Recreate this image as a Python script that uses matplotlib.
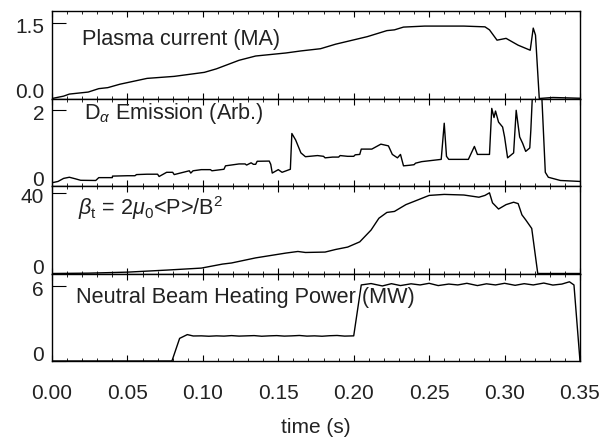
import matplotlib
matplotlib.use("Agg")
import matplotlib.pyplot as plt
from matplotlib.ticker import MultipleLocator
from matplotlib.transforms import ScaledTranslation

plt.rcParams['font.family'] = ['Liberation Sans', 'DejaVu Sans']
plt.rcParams['mathtext.fontset'] = 'custom'
plt.rcParams['mathtext.rm'] = 'Liberation Sans'
plt.rcParams['mathtext.it'] = 'Liberation Sans:italic'

# ---- data ----
ip_t = [0.0, 0.0077, 0.0115, 0.024, 0.031, 0.037, 0.045, 0.063, 0.081, 0.101, 0.109,
        0.124, 0.135, 0.155, 0.165, 0.178, 0.188, 0.209, 0.222, 0.227, 0.233, 0.247,
        0.273, 0.287, 0.29, 0.295, 0.301, 0.309, 0.317, 0.319, 0.3205, 0.323, 0.332, 0.35]
ip_v = [0.0, 0.047, 0.088, 0.128, 0.196, 0.216, 0.284, 0.40, 0.44, 0.52, 0.59,
        0.76, 0.845, 0.905, 0.946, 0.99, 1.08, 1.23, 1.35, 1.365, 1.42, 1.44,
        1.44, 1.425, 1.365, 1.16, 1.196, 1.06, 0.96, 1.40, 1.26, 0.0, 0.02, 0.005]

da_t = [0.0, 0.004, 0.0077, 0.0115, 0.0154, 0.019, 0.029, 0.031, 0.04, 0.0401, 0.05,
        0.055, 0.056, 0.063, 0.07, 0.071, 0.076, 0.08, 0.081, 0.088,
        0.091, 0.092, 0.0935, 0.099, 0.105, 0.106, 0.114, 0.115, 0.124, 0.128, 0.129,
        0.132, 0.1335, 0.135, 0.136,
        0.144, 0.145, 0.146, 0.15, 0.1525, 0.158, 0.159, 0.1615, 0.165, 0.168, 0.176,
        0.18, 0.181, 0.186, 0.19, 0.191, 0.196, 0.2, 0.201, 0.204, 0.205, 0.212, 0.218,
        0.223, 0.2256, 0.229, 0.231, 0.233,
        0.237, 0.24, 0.241, 0.245, 0.258, 0.26, 0.2615, 0.263, 0.27, 0.276, 0.28, 0.282,
        0.29, 0.2915, 0.293, 0.294, 0.296, 0.2987, 0.30, 0.302, 0.306, 0.3077, 0.31,
        0.312, 0.314, 0.3167, 0.3174, 0.3187, 0.3244, 0.327, 0.329, 0.337, 0.35]
da_v = [0.085, 0.12, 0.2, 0.23, 0.19, 0.15, 0.145, 0.22, 0.22, 0.26, 0.27,
        0.27, 0.3, 0.31, 0.31, 0.25, 0.36, 0.36, 0.3, 0.37,
        0.40, 0.34, 0.40, 0.43, 0.43, 0.40, 0.44, 0.53, 0.58, 0.58, 0.55,
        0.61, 0.57, 0.57, 0.65,
        0.655, 0.57, 0.34, 0.43, 0.36, 0.44, 1.38, 1.21, 0.87, 0.77, 0.80,
        0.78, 0.74, 0.76, 0.76, 0.80, 0.78, 0.78, 0.82, 0.83, 0.97, 0.97, 1.10,
        1.055, 0.83, 0.74, 0.83, 0.53,
        0.545, 0.56, 0.60, 0.64, 0.70, 1.65, 0.78, 0.70, 0.70, 0.70, 1.04, 0.83,
        0.83, 2.04, 1.80, 1.97, 1.68, 1.55, 1.29, 0.74, 0.87, 1.99, 1.29,
        1.12, 0.91, 1.0, 1.46, 2.6, 2.6, 0.36, 0.23, 0.145, 0.12]

bt_t = [0.0, 0.024, 0.05, 0.076, 0.099, 0.113, 0.119, 0.135, 0.155, 0.163, 0.168,
        0.181, 0.188, 0.196, 0.204, 0.2115, 0.2167, 0.222, 0.227, 0.2346, 0.242,
        0.25, 0.26, 0.273, 0.283, 0.287, 0.29, 0.292, 0.296, 0.301, 0.306, 0.309,
        0.3115, 0.314, 0.318, 0.322, 0.35]
bt_v = [0.0, 0.17, 0.68, 1.7, 2.7, 4.7, 5.25, 7.8, 10.2, 11.0, 10.5,
        10.7, 12.0, 13.2, 15.8, 21.7, 27.6, 30.5, 31.0, 34.4, 36.6,
        39.0, 39.5, 39.2, 38.1, 39.0, 40.3, 35.3, 32.2, 34.4, 35.6, 34.9,
        29.3, 26.8, 22.5, 0.0, 0.0]

nb_t = [0.0, 0.0795, 0.0846, 0.0897, 0.0936, 0.099, 0.104, 0.109, 0.114, 0.119, 0.124,
        0.129, 0.134, 0.139, 0.144, 0.149, 0.154, 0.159, 0.164, 0.169, 0.174, 0.179,
        0.184, 0.189, 0.194, 0.2, 0.205, 0.2115, 0.219, 0.225, 0.231, 0.238, 0.244,
        0.25, 0.256, 0.263, 0.269, 0.275, 0.282, 0.288, 0.294, 0.3, 0.307, 0.313,
        0.319, 0.326, 0.332, 0.338, 0.343, 0.346, 0.35]
nb_v = [0.0, 0.0, 1.8, 2.1, 1.99, 2.0, 1.97, 2.0, 1.98, 2.02, 1.98,
        2.0, 2.02, 1.97, 2.0, 2.02, 1.98, 2.0, 2.03, 1.98, 2.0, 1.97,
        2.01, 2.03, 1.98, 2.0, 6.05, 6.16, 5.97, 6.15, 6.0, 6.14, 6.05,
        6.18, 6.0, 6.12, 6.05, 6.18, 6.0, 6.14, 6.05, 6.18, 6.02, 6.15,
        6.05, 6.2, 6.04, 6.12, 6.3, 6.05, 0.0]

panels = [
    (ip_t, ip_v, (0.0, 1.74), [0.0, 1.5], ['0.0', '1.5'], 'Plasma current (MA)'),
    (da_t, da_v, (0.0, 2.3), [0, 2], ['0', '2'], r'D$_\alpha$ Emission (Arb.)'),
    (bt_t, bt_v, (0.0, 43.7), [0, 40], ['0', '40'], r'$\beta_{\rm t}$ = 2$\mu_0$<P>/B$^2$'),
    (nb_t, nb_v, (0.0, 6.96), [0, 6], ['0', '6'], 'Neutral Beam Heating Power (MW)'),
]
xticks = [0.0, 0.05, 0.10, 0.15, 0.20, 0.25, 0.30, 0.35]
xticklabels = ['0.00', '0.05', '0.10', '0.15', '0.20', '0.25', '0.30', '0.35']

W, H = 605, 442
fig = plt.figure(figsize=(W / 100, H / 100), dpi=100)
left, right = 52, 580
top, bottom = 11, 361
ph = (bottom - top) / 4.0
label_y = [40, 113, 208, 298]
label_x = [82, 84, 78, 76]

txtcol = '#222222'
for i, (t, v, ylim, yt, ytl, lab) in enumerate(panels):
    y0 = top + ph * (i + 1)
    ax = fig.add_axes([left / W, 1 - y0 / H, (right - left) / W, ph / H])
    ax.plot(t, v, color='black', lw=1.0, clip_on=True)
    ax.set_xlim(0, 0.35)
    ax.set_ylim(*ylim)
    ax.xaxis.set_major_locator(MultipleLocator(0.05))
    ax.xaxis.set_minor_locator(MultipleLocator(0.01))
    ax.tick_params(axis='x', which='major', direction='in', top=True, bottom=True,
                   length=4, width=0.8, labelsize=15, labelcolor=txtcol, pad=16.5)
    ax.tick_params(axis='x', which='minor', direction='in', top=True, bottom=True,
                   length=2, width=0.6)
    ax.set_yticks(yt)
    ax.set_yticklabels(['', ''])
    ax.tick_params(axis='y', which='major', direction='in', left=True, right=False,
                   length=10, width=0.8)
    # y tick labels: bottom one sits on its tick, top one slightly below it
    for val, s, va, dy in [(yt[0], ytl[0], 'baseline', 0.0),
                           (yt[1], ytl[1], 'center', -0.045)]:
        tr = ax.get_yaxis_transform() + ScaledTranslation(-0.08, dy, fig.dpi_scale_trans)
        ax.text(0, val, s, transform=tr, ha='right', va=va, fontsize=15,
                color=txtcol, clip_on=False)
    for s in ax.spines.values():
        s.set_linewidth(1.0)
    if i < 3:
        ax.tick_params(axis='x', labelbottom=False)
    else:
        ax.set_xticks(xticks)
        ax.set_xticklabels(xticklabels)
        ax.set_xlabel('time (s)', fontsize=15, color=txtcol, labelpad=11)
    fig.text(label_x[i] / W, 1 - label_y[i] / H, lab, fontsize=15.6, color=txtcol,
             ha='left', va='center')

fig.savefig('out.png', dpi=100)
